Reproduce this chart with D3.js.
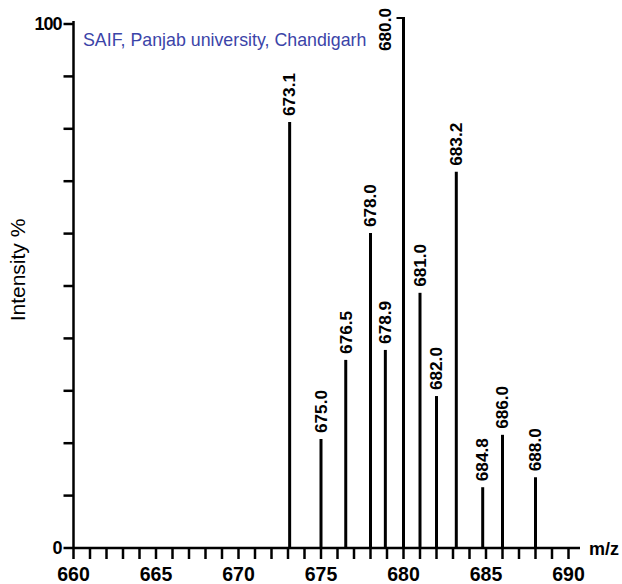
<!DOCTYPE html>
<html>
<head>
<meta charset="utf-8">
<script src="https://cdn.jsdelivr.net/npm/d3@7"></script>
<style>
  body { margin: 0; background: #fff; }
  svg { display: block; font-family: "Liberation Sans", Arial, sans-serif; }
</style>
</head>
<body>
<div id="chart"></div>
<script>
// peaks
const mz = [673.1, 675.0, 676.5, 678.0, 678.9, 680.0, 681.0, 682.0, 683.2, 684.8, 686.0, 688.0];
const intensity = [81.3, 20.8, 35.9, 60.1, 37.8, 100, 48.7, 29.0, 71.8, 11.6, 21.6, 13.5];
const xTickLabels = [660, 665, 670, 675, 680, 685, 690];
const yTickLabels = [0, 100];

const width = 622, height = 584;
const labelLen = 43;

const svg = d3.select("#chart").append("svg")
  .attr("width", width)
  .attr("height", height);

const x = d3.scaleLinear().domain([660, 690]).range([73.5, 568.5]);
const y = d3.scaleLinear().domain([0, 100]).range([548, 24]);

// y axis
const yAxis = svg.append("g");
yAxis.append("line")
  .attr("x1", x(660)).attr("x2", x(660))
  .attr("y1", y(0)).attr("y2", y(100) - 3)
  .attr("stroke", "#000").attr("stroke-width", 2.5);
yAxis.selectAll("line.tick")
  .data(d3.range(0, 101, 10))
  .enter().append("line")
  .attr("class", "tick")
  .attr("x1", x(660) - 10).attr("x2", x(660))
  .attr("y1", d => y(d)).attr("y2", d => y(d))
  .attr("stroke", "#000").attr("stroke-width", 2.5);
yAxis.selectAll("text")
  .data(yTickLabels)
  .enter().append("text")
  .attr("x", x(660) - 12)
  .attr("y", d => y(d))
  .attr("dy", "0.35em")
  .attr("text-anchor", "end")
  .attr("font-size", 18)
  .attr("font-weight", "bold")
  .attr("letter-spacing", -1)
  .text(d => d);

svg.append("text")
  .attr("transform", `translate(25,270) rotate(-90)`)
  .attr("text-anchor", "middle")
  .attr("font-size", 21)
  .text("Intensity %");

// x axis
const xAxis = svg.append("g");
xAxis.append("line")
  .attr("x1", x(660)).attr("x2", 580)
  .attr("y1", y(0)).attr("y2", y(0))
  .attr("stroke", "#000").attr("stroke-width", 2.5);
xAxis.selectAll("line.tick")
  .data(d3.range(660, 691, 1))
  .enter().append("line")
  .attr("class", "tick")
  .attr("x1", d => x(d)).attr("x2", d => x(d))
  .attr("y1", y(0)).attr("y2", y(0) + 11)
  .attr("stroke", "#000").attr("stroke-width", 2.5);
xAxis.selectAll("text")
  .data(xTickLabels)
  .enter().append("text")
  .attr("x", d => x(d))
  .attr("y", 581)
  .attr("text-anchor", "middle")
  .attr("font-size", 19.5)
  .attr("font-weight", "bold")
  .text(d => d);

svg.append("text")
  .attr("x", 589)
  .attr("y", 555)
  .attr("font-size", 18)
  .attr("font-weight", "bold")
  .text("m/z");

// peaks
const peaks = mz.map((m, i) => ({ m: m, v: intensity[i] }));
// a label that would run off the top goes beside its line instead
const beside = d => y(d.v) - 6 - labelLen < 0;

svg.selectAll("line.peak")
  .data(peaks)
  .enter().append("line")
  .attr("class", "peak")
  .attr("x1", d => x(d.m)).attr("x2", d => x(d.m))
  .attr("y1", y(0)).attr("y2", d => y(d.v) - (beside(d) ? 6 : 0))
  .attr("stroke", "#000").attr("stroke-width", 3);

svg.selectAll("line.hook")
  .data(peaks.filter(beside))
  .enter().append("line")
  .attr("class", "hook")
  .attr("x1", d => x(d.m) - 7).attr("x2", d => x(d.m) + 1.5)
  .attr("y1", d => y(d.v) - 6).attr("y2", d => y(d.v) - 6)
  .attr("stroke", "#000").attr("stroke-width", 2);

svg.selectAll("text.peak-label")
  .data(peaks)
  .enter().append("text")
  .attr("class", "peak-label")
  .attr("transform", d => beside(d)
    ? `translate(${x(d.m) - 18},${y(d.v) + 27}) rotate(-90)`
    : `translate(${x(d.m)},${y(d.v) - 6}) rotate(-90)`)
  .attr("dy", "0.36em")
  .attr("font-size", 16)
  .attr("font-weight", "bold")
  .attr("textLength", labelLen)
  .attr("lengthAdjust", "spacingAndGlyphs")
  .text(d => d.m.toFixed(1));

// source note
svg.append("text")
  .attr("x", 83)
  .attr("y", 46)
  .attr("font-size", 17.8)
  .attr("fill", "#3b44a8")
  .text("SAIF, Panjab university, Chandigarh");
</script>
</body>
</html>
